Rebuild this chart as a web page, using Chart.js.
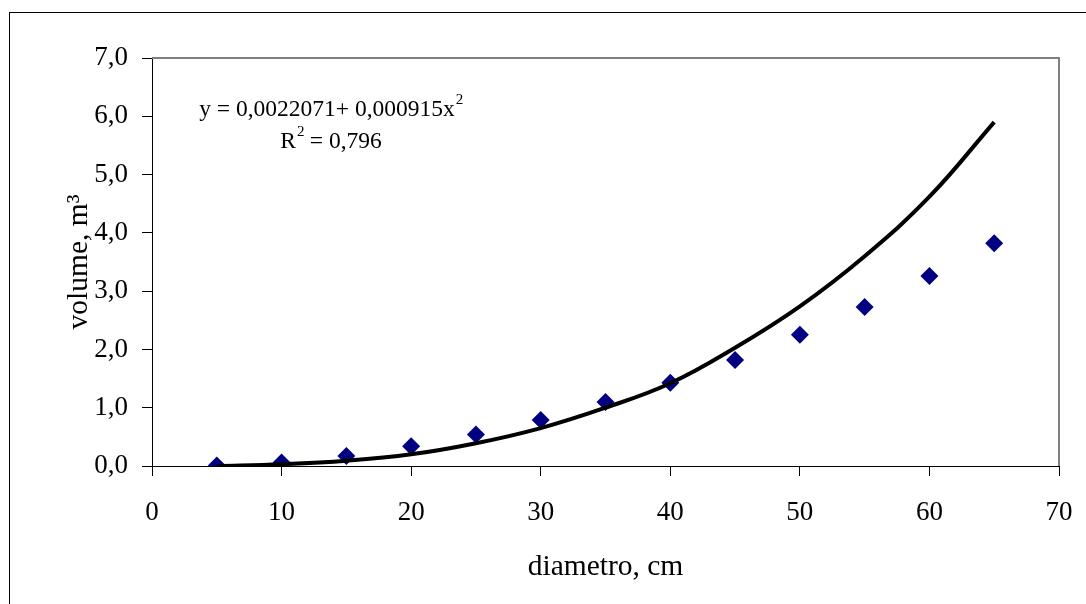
<!DOCTYPE html>
<html>
<head>
<meta charset="utf-8">
<script src="https://cdn.jsdelivr.net/npm/chart.js@4/dist/chart.umd.min.js"></script>
<style>
  body { margin: 0; background: #fff; }
  #wrap { width: 1086px; height: 604px; }
</style>
</head>
<body>
<div id="wrap"><canvas id="chart" width="1086" height="604"></canvas></div>
<script>
// observed points (diametro cm -> volume m3)
const diametro = [5, 10, 15, 20, 25, 30, 35, 40, 45, 50, 55, 60, 65];
const volume = [0.01, 0.06, 0.17, 0.34, 0.54, 0.79, 1.10, 1.43, 1.82, 2.25, 2.73, 3.26, 3.82];
// trend line
const trendVolume = [0.00, 0.03, 0.09, 0.20, 0.39, 0.65, 1.00, 1.42, 2.03, 2.74, 3.60, 4.62, 5.90];

const eqLine1 = 'y = 0,0022071+ 0,000915x';
const eqLine2 = 'R';
const eqR2 = ' = 0,796';

const serif = '"Liberation Serif", "Times New Roman", serif';
const fmt = v => v.toFixed(1).replace('.', ',');

const toPts = (xs, ys) => xs.map((x, i) => ({ x: x, y: ys[i] }));

// outer frame, plot border and the equation box
const decor = {
  id: 'decor',
  beforeDraw(chart) {
    const c = chart.ctx;
    c.save();
    c.fillStyle = '#fff';
    c.fillRect(0, 0, chart.width, chart.height);
    c.strokeStyle = '#000';
    c.lineWidth = 1;
    c.strokeRect(9.5, 12.5, 1200, 800);
    c.restore();
  },
  afterDraw(chart) {
    const a = chart.chartArea;
    const c = chart.ctx;
    c.save();
    c.strokeStyle = '#808080';
    c.lineWidth = 2;
    c.beginPath();
    c.moveTo(a.left, a.top);
    c.lineTo(a.right, a.top);
    c.lineTo(a.right, a.bottom);
    c.stroke();

    c.fillStyle = '#000';
    c.textBaseline = 'alphabetic';
    c.textAlign = 'left';
    const big = '23.5px ' + serif;
    const small = '15px ' + serif;
    c.font = big;
    const w1 = c.measureText(eqLine1).width;
    const cx = 331;
    const x1 = cx - (w1 + 8) / 2;
    c.fillText(eqLine1, x1, 116);
    c.font = small;
    c.fillText('2', x1 + w1 + 1, 104);

    c.font = big;
    const wR = c.measureText(eqLine2).width;
    const wRest = c.measureText(eqR2).width;
    const x2 = cx - (wR + 8 + wRest) / 2;
    c.fillText(eqLine2, x2, 148);
    c.font = small;
    c.fillText('2', x2 + wR + 1, 136);
    c.font = big;
    c.fillText(eqR2, x2 + wR + 8, 148);
    c.restore();
  }
};

new Chart(document.getElementById('chart'), {
  type: 'scatter',
  data: {
    datasets: [
      {
        type: 'line',
        data: toPts(diametro, trendVolume),
        borderColor: '#000',
        borderWidth: 4,
        pointRadius: 0,
        fill: false,
        tension: 0.4
      },
      {
        data: toPts(diametro, volume),
        pointStyle: 'rectRot',
        pointRadius: 9,
        pointBackgroundColor: '#000080',
        pointBorderColor: '#000080',
        pointBorderWidth: 0
      }
    ]
  },
  options: {
    responsive: false,
    animation: false,
    layout: { padding: { top: 58, right: 27, left: 0, bottom: 0 } },
    plugins: {
      legend: { display: false },
      tooltip: { enabled: false }
    },
    scales: {
      x: {
        type: 'linear',
        min: 0,
        max: 70,
        afterFit: s => { s.height = 138; s.paddingLeft = 0; s.paddingRight = 0; },
        ticks: {
          stepSize: 10,
          color: '#000',
          padding: 21,
          font: { family: serif, size: 27 }
        },
        grid: { drawOnChartArea: false, tickLength: 10, color: '#000' },
        border: { color: '#000', width: 1 },
        title: {
          display: true,
          text: 'diametro, cm',
          color: '#000',
          font: { family: serif, size: 29.5 },
          padding: { bottom: 19 }
        }
      },
      y: {
        min: 0,
        max: 7,
        afterFit: s => { s.width = 152; s.paddingTop = 0; s.paddingBottom = 0; },
        ticks: {
          stepSize: 1,
          color: '#000',
          padding: 14,
          callback: v => fmt(v),
          font: { family: serif, size: 27 }
        },
        grid: { drawOnChartArea: false, tickLength: 10, color: '#000' },
        border: { color: '#000', width: 1 },
        title: {
          display: true,
          text: 'volume, m³',
          color: '#000',
          font: { family: serif, size: 29.5 },
          padding: { top: 62 }
        }
      }
    }
  },
  plugins: [decor]
});
</script>
</body>
</html>
